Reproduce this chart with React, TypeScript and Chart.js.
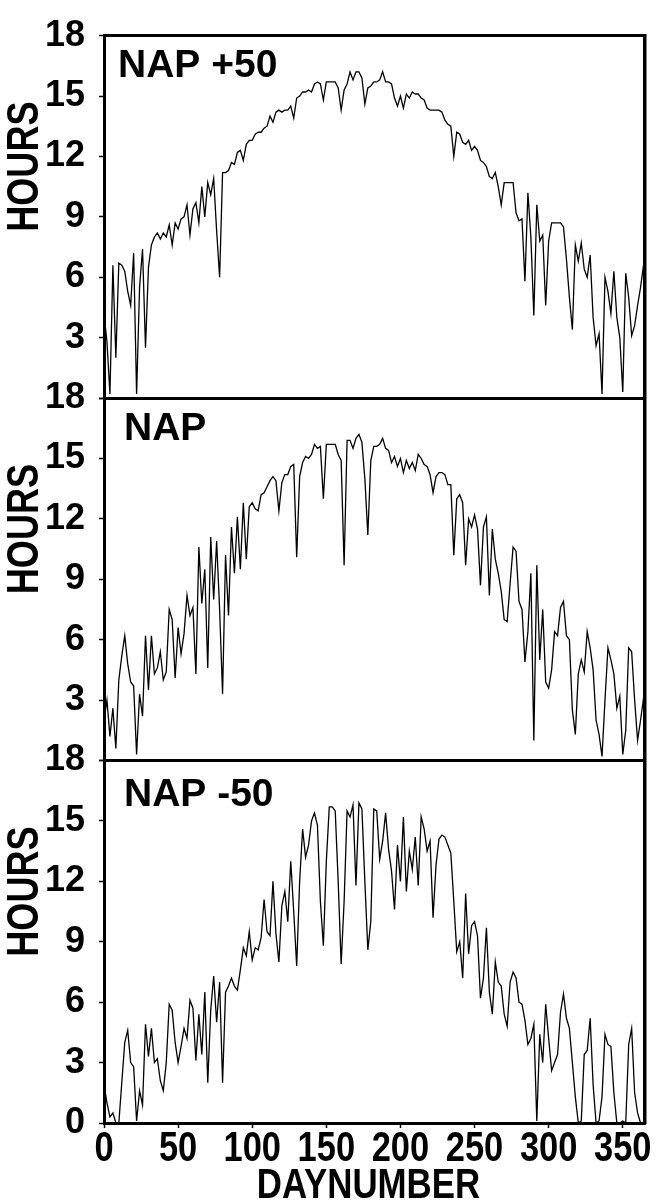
import React, { useEffect, useRef } from 'react';
import { Chart, registerables } from 'chart.js';

Chart.register(...registerables);

// Day numbers (every second day)
const DAYS = [
  0, 2, 4, 6, 8, 10, 12, 14, 16, 18,
  20, 22, 24, 26, 28, 30, 32, 34, 36, 38,
  40, 42, 44, 46, 48, 50, 52, 54, 56, 58,
  60, 62, 64, 66, 68, 70, 72, 74, 76, 78,
  80, 82, 84, 86, 88, 90, 92, 94, 96, 98,
  100, 102, 104, 106, 108, 110, 112, 114, 116, 118,
  120, 122, 124, 126, 128, 130, 132, 134, 136, 138,
  140, 142, 144, 146, 148, 150, 152, 154, 156, 158,
  160, 162, 164, 166, 168, 170, 172, 174, 176, 178,
  180, 182, 184, 186, 188, 190, 192, 194, 196, 198,
  200, 202, 204, 206, 208, 210, 212, 214, 216, 218,
  220, 222, 224, 226, 228, 230, 232, 234, 236, 238,
  240, 242, 244, 246, 248, 250, 252, 254, 256, 258,
  260, 262, 264, 266, 268, 270, 272, 274, 276, 278,
  280, 282, 284, 286, 288, 290, 292, 294, 296, 298,
  300, 302, 304, 306, 308, 310, 312, 314, 316, 318,
  320, 322, 324, 326, 328, 330, 332, 334, 336, 338,
  340, 342, 344, 346, 348, 350, 352, 354, 356, 358,
  360, 362, 364,
];

// Hours, panel "NAP +50"
const NAP_PLUS_50 = [
  4.2, 2.8, 0.2, 6.6, 2.0, 6.7, 6.6, 6.3, 5.3, 4.6,
  7.2, 0.2, 5.5, 7.4, 2.5, 6.5, 7.6, 8.0, 8.2, 7.9,
  8.2, 8.0, 8.6, 7.6, 8.7, 8.4, 8.9, 9.0, 9.6, 8.1,
  9.4, 9.7, 8.7, 10.5, 9.0, 10.7, 10.1, 10.9, 8.3, 6.0,
  11.2, 11.2, 11.3, 11.7, 11.6, 12.2, 12.3, 11.8, 12.6, 12.8,
  12.8, 13.1, 13.2, 13.2, 13.4, 13.5, 14.0, 13.7, 14.2, 14.3,
  14.2, 14.3, 14.3, 14.5, 13.9, 14.9, 15.0, 15.2, 15.2, 15.3,
  15.2, 15.6, 15.7, 15.6, 14.8, 15.7, 15.7, 15.7, 15.7, 15.4,
  14.3, 15.3, 15.6, 16.2, 15.8, 16.2, 16.2, 15.9, 14.6, 15.4,
  15.5, 15.7, 15.7, 15.8, 16.2, 15.7, 15.7, 15.6, 14.9, 14.5,
  15.0, 14.4, 15.1, 14.9, 15.2, 15.1, 15.1, 14.9, 14.8, 14.4,
  14.3, 14.3, 14.3, 14.3, 14.2, 13.8, 13.6, 13.5, 12.0, 13.2,
  13.1, 12.7, 12.6, 12.8, 12.3, 12.5, 12.3, 11.8, 11.7, 11.5,
  11.0, 10.9, 11.2, 10.5, 9.6, 10.7, 10.7, 10.7, 10.7, 9.2,
  8.8, 8.9, 5.8, 10.2, 8.0, 4.1, 9.6, 7.8, 8.1, 4.6,
  7.8, 8.7, 8.7, 8.7, 8.7, 8.5, 6.9, 5.0, 3.4, 7.6,
  6.8, 7.7, 6.4, 6.0, 7.1, 4.0, 2.6, 3.2, 0.2, 6.0,
  5.3, 4.2, 6.3, 4.0, 3.0, 0.3, 6.2, 5.0, 3.1, 3.6,
  4.6, 5.5, 6.6,
];

// Hours, panel "NAP"
const NAP = [
  2.0, 3.0, 1.2, 2.6, 0.6, 4.0, 5.2, 6.2, 4.8, 3.9,
  3.7, 0.3, 3.3, 2.2, 6.2, 3.5, 6.2, 4.3, 4.6, 5.4,
  4.0, 4.4, 7.5, 7.0, 4.1, 6.6, 5.3, 6.3, 8.2, 7.2,
  7.6, 4.3, 10.6, 7.8, 9.5, 4.6, 11.1, 8.0, 10.9, 7.5,
  3.3, 10.2, 7.2, 11.6, 9.3, 12.1, 9.5, 12.8, 10.0, 12.6,
  12.8, 12.5, 12.4, 13.2, 13.3, 13.6, 13.9, 14.1, 13.9, 12.4,
  13.8, 14.2, 14.2, 14.6, 14.7, 10.1, 14.1, 14.8, 15.1, 15.0,
  15.2, 15.7, 15.5, 15.6, 13.0, 15.7, 15.7, 15.7, 15.7, 15.2,
  14.9, 9.7, 15.9, 15.9, 15.5, 16.0, 16.2, 15.8, 14.0, 11.2,
  14.9, 15.6, 15.6, 15.7, 16.0, 15.5, 15.4, 14.8, 15.1, 14.6,
  15.0, 14.3, 14.9, 14.5, 14.8, 14.4, 15.2, 15.0, 14.7, 14.6,
  14.2, 13.3, 14.1, 14.3, 14.3, 14.2, 13.7, 13.7, 10.2, 13.0,
  13.2, 12.8, 9.7, 12.0, 11.6, 12.2, 11.5, 8.7, 11.6, 12.1,
  8.2, 11.5, 10.0, 9.3, 8.4, 7.0, 6.9, 8.8, 10.6, 10.4,
  7.9, 7.5, 4.9, 6.4, 9.3, 1.0, 9.7, 5.0, 7.5, 3.9,
  3.6, 4.5, 6.4, 6.2, 7.6, 7.9, 6.2, 6.0, 2.5, 1.3,
  4.3, 5.0, 4.4, 6.4, 5.6, 4.5, 2.0, 1.3, 0.2, 3.0,
  5.6, 5.0, 4.3, 2.6, 3.2, 0.3, 1.5, 5.6, 5.4, 3.0,
  1.0, 2.0, 3.1,
];

// Hours, panel "NAP -50"
const NAP_MINUS_50 = [
  1.9, 1.0, 0.3, 0.5, 0.0, 0.0, 2.0, 4.0, 4.6, 3.0,
  2.8, 0.1, 1.6, 0.9, 4.9, 3.3, 4.7, 3.0, 3.2, 2.1,
  1.6, 3.0, 5.9, 5.6, 4.0, 3.0, 3.8, 4.7, 4.2, 6.1,
  5.7, 3.1, 5.4, 3.4, 6.5, 2.0, 5.6, 7.3, 5.0, 7.0,
  2.0, 6.5, 6.8, 7.2, 6.8, 6.6, 7.6, 8.7, 8.3, 9.5,
  8.1, 8.7, 8.6, 9.2, 11.1, 9.5, 9.3, 12.0, 9.4, 8.0,
  10.8, 11.5, 10.0, 13.0, 10.5, 7.8, 12.0, 14.6, 13.2, 13.8,
  15.0, 15.4, 14.8, 11.0, 8.8, 13.0, 15.7, 15.7, 15.5, 12.0,
  7.9, 11.0, 15.5, 15.2, 15.8, 11.8, 15.9, 15.6, 12.0, 8.6,
  10.0, 15.6, 15.5, 13.1, 14.0, 15.4, 13.6, 12.5, 10.6, 13.8,
  12.0, 15.2, 11.5, 13.5, 12.6, 14.2, 11.8, 15.2, 14.6, 13.5,
  14.0, 10.2, 12.8, 14.1, 14.3, 14.2, 13.8, 13.4, 11.0, 8.5,
  9.0, 7.2, 11.4, 8.4, 9.8, 10.0, 9.3, 6.2, 7.2, 9.7,
  6.5, 5.4, 8.0, 7.0, 6.8, 5.4, 4.8, 7.0, 7.5, 7.2,
  6.0, 5.9, 5.1, 3.9, 4.2, 4.9, 0.1, 4.4, 3.0, 5.9,
  4.2, 2.6, 3.0, 3.4, 5.5, 6.4, 5.2, 4.7, 3.0, 1.3,
  0.0, 0.1, 3.4, 3.6, 5.2, 1.9, 0.0, 0.1, 1.3, 4.4,
  3.9, 3.8, 1.5, 0.0, 0.0, 0.1, 0.0, 3.9, 4.7, 1.5,
  0.5, 0.0, 0.0,
];

const SERIES = [NAP_PLUS_50, NAP, NAP_MINUS_50];
const PANEL_TITLES = ['NAP +50', 'NAP', 'NAP -50'];
const AXIS_IDS = ['y1', 'y2', 'y3'];
const Y_AXIS_TITLE = 'HOURS';
const X_AXIS_TITLE = 'DAYNUMBER';

// placement of texts
const TITLE_X = [118, 124, 124];
const TITLE_DY = [41, 42, 45];
const HOURS_X = 26;
const HOURS_DY = 131;
const X_TICK_BASELINE = 1161;
const X_TITLE_BASELINE = 1198;
const CONDENSE = 0.82;

const FONT_MAIN = '"Liberation Sans", Arial, Helvetica, sans-serif';

const textPlugin = {
  id: 'panelText',
  afterDraw(chart: any) {
    const ctx = chart.ctx;
    ctx.save();
    ctx.fillStyle = '#000';
    // panel titles and y axis titles
    AXIS_IDS.forEach((id, i) => {
      const s = chart.scales[id];
      if (!s) return;
      ctx.font = `bold 39px ${FONT_MAIN}`;
      ctx.textAlign = 'left';
      ctx.textBaseline = 'alphabetic';
      ctx.fillText(PANEL_TITLES[i], TITLE_X[i], s.top + TITLE_DY[i]);
      ctx.save();
      ctx.translate(HOURS_X, s.top + HOURS_DY);
      ctx.rotate(-Math.PI / 2);
      ctx.scale(CONDENSE, 1);
      ctx.font = `bold 44px ${FONT_MAIN}`;
      ctx.textAlign = 'center';
      ctx.textBaseline = 'middle';
      ctx.fillText(Y_AXIS_TITLE, 0, 0);
      ctx.restore();
    });
    // x tick labels (condensed), taken from the axis ticks
    const xs = chart.scales.x;
    ctx.font = `bold 42px ${FONT_MAIN}`;
    ctx.textAlign = 'center';
    ctx.textBaseline = 'alphabetic';
    xs.ticks.forEach((t: any) => {
      const px = xs.getPixelForValue(t.value);
      ctx.save();
      ctx.translate(px, X_TICK_BASELINE);
      ctx.scale(CONDENSE, 1);
      ctx.fillText(String(t.value), 0, 0);
      ctx.restore();
    });
    // x axis title (condensed)
    ctx.save();
    ctx.translate((xs.left + xs.right) / 2 - 6, X_TITLE_BASELINE);
    ctx.scale(0.83, 1);
    ctx.font = `bold 42px ${FONT_MAIN}`;
    ctx.fillText(X_AXIS_TITLE, 0, 0);
    ctx.restore();
    ctx.restore();
  },
};

function yAxis(showZero: boolean, weight: number) {
  return {
    type: 'linear',
    position: 'left',
    stack: 'panels',
    stackWeight: 1,
    weight,
    min: 0,
    max: 18,
    afterFit: (s: any) => {
      s.width = 104;
    },
    ticks: {
      stepSize: 3,
      autoSkip: false,
      color: '#000',
      padding: 14,
      font: { family: FONT_MAIN, size: 36, weight: 'bold' },
      callback: (v: any) => (v === 0 && !showZero ? '' : String(v)),
    },
    grid: {
      drawOnChartArea: true,
      color: (c: any) => (c.tick && c.tick.value === 18 ? '#000' : 'rgba(0,0,0,0)'),
      lineWidth: (c: any) => (c.tick && c.tick.value === 18 ? 3 : 1),
      tickLength: 5,
      tickColor: '#000',
      tickWidth: 1.5,
    },
    border: { display: true, color: '#000', width: 3 },
  };
}

export default function App() {
  const ref = useRef<HTMLCanvasElement | null>(null);

  useEffect(() => {
    document.body.style.margin = '0';
    const canvas = ref.current;
    if (!canvas) return;
    const chart = new Chart(canvas, {
      type: 'line',
      data: {
        datasets: SERIES.map((vals, i) => ({
          label: PANEL_TITLES[i],
          data: DAYS.map((d, j) => ({ x: d, y: vals[j] })),
          yAxisID: AXIS_IDS[i],
          borderColor: '#000',
          borderWidth: 1.3,
          pointRadius: 0,
          fill: false,
          tension: 0,
        })),
      },
      options: {
        responsive: false,
        devicePixelRatio: 1,
        animation: false,
        layout: { padding: { top: 24, right: 11, bottom: 0, left: 0 } },
        plugins: { legend: { display: false }, tooltip: { enabled: false } },
        scales: {
          x: {
            type: 'linear',
            position: 'bottom',
            min: 0,
            max: 365,
            afterFit: (s: any) => {
              s.height = 81;
            },
            ticks: {
              display: false,
              stepSize: 50,
              includeBounds: false,
              autoSkip: false,
              maxRotation: 0,
            },
            grid: { drawOnChartArea: false, tickLength: 5, tickColor: '#000', tickWidth: 1.5 },
            border: { display: true, color: '#000', width: 3 },
            title: { display: false, text: X_AXIS_TITLE },
          },
          y3: yAxis(true, 1),
          y2: yAxis(false, 2),
          y1: yAxis(false, 3),
          yr: {
            type: 'linear',
            position: 'right',
            display: true,
            afterFit: (s: any) => {
              s.width = 0;
            },
            ticks: { display: false },
            grid: { display: false, drawTicks: false },
            border: { display: true, color: '#000', width: 3.5 },
          },
        } as any,
      },
      plugins: [textPlugin],
    } as any);
    return () => chart.destroy();
  }, []);

  return (
    <div style={{ width: 656, height: 1204, background: '#fff' }}>
      <canvas ref={ref} width={656} height={1204} style={{ display: 'block', width: 656, height: 1204 }} />
    </div>
  );
}
